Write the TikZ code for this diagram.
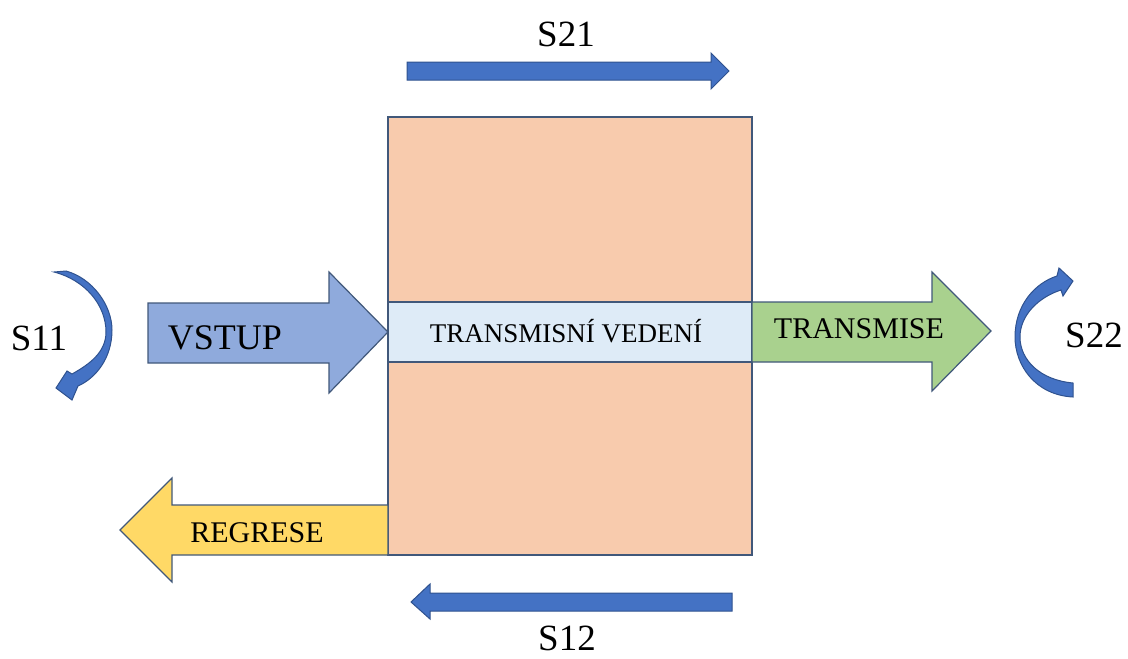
\documentclass[tikz,border=0pt]{standalone}
\usepackage{fontspec}
\setmainfont{Liberation Serif}
\definecolor{peach}{HTML}{F8CBAD}
\definecolor{band}{HTML}{DEEBF7}
\definecolor{inblue}{HTML}{8FAADC}
\definecolor{outgreen}{HTML}{A9D18E}
\definecolor{backyellow}{HTML}{FFD966}
\definecolor{sblue}{HTML}{4472C4}
\definecolor{sbord}{HTML}{2F528F}
\definecolor{edge}{HTML}{41587A}
\tikzset{
  shapeline/.style={draw=edge, line width=1.2pt, line join=miter},
  bluearrow/.style={fill=sblue, draw=sbord, line width=1pt, line join=miter},
  lbl/.style={anchor=base, inner sep=0pt, text depth=0pt, font=\fontsize{37}{40}\selectfont},
  arrtext/.style={anchor=base, inner sep=0pt},
}
\begin{document}
\begin{tikzpicture}[x=1pt,y=-1pt]
\useasboundingbox (0,0) rectangle (1128,659);
% main box and band
\draw[shapeline, fill=peach] (388,117) rectangle (752,555);
\draw[shapeline, fill=band] (388,302) rectangle (752,362);
\node[arrtext, font=\fontsize{27}{30}\selectfont] (tv) at (566,342) {TRANSMISNÍ VEDENÍ};
% VSTUP arrow
\draw[shapeline, fill=inblue] (148,303) -- (329,303) -- (329,272) -- (388,332) -- (329,393) -- (329,363) -- (148,363) -- cycle;
\node[arrtext, font=\fontsize{36}{40}\selectfont] (vstup) at (225,349) {VSTUP};
% TRANSMISE arrow
\draw[shapeline, fill=outgreen] (752,302) -- (932,302) -- (932,272) -- (991,331) -- (932,391) -- (932,362) -- (752,362) -- cycle;
\node[arrtext, font=\fontsize{30}{34}\selectfont] (tr) at (859,338) {TRANSMISE};
% REGRESE arrow
\draw[shapeline, fill=backyellow] (388,505) -- (172,505) -- (172,478) -- (120,530) -- (172,582) -- (172,555) -- (388,555) -- cycle;
\node[arrtext, font=\fontsize{30}{34}\selectfont] (rg) at (257,542) {REGRESE};
% S21 arrow
\draw[bluearrow] (407,62) -- (711,62) -- (711,53) -- (729,71) -- (711,89) -- (711,80) -- (407,80) -- cycle;
\node[lbl] (s21) at (566,46) {S21};
% S12 arrow
\draw[bluearrow] (732,593) -- (430,593) -- (430,584) -- (411,602) -- (430,619) -- (430,611) -- (732,611) -- cycle;
\node[lbl] (s12) at (567,650) {S12};
% S11 curved arrow
\draw[bluearrow] (54,272) -- (66,271)
  .. controls (92,278) and (112,305) .. (112,330)
  .. controls (112,358) and (96,378) .. (78,386)
  -- (72,400) -- (56,388) -- (67,371) -- (72,374)
  .. controls (90,364) and (106,352) .. (106,332)
  .. controls (106,305) and (85,280) .. cycle;
\node[lbl] (s11) at (39,350) {S11};
% S22 curved arrow
\draw[bluearrow] (1073,397)
  .. controls (1035,395) and (1015,365) .. (1015,337)
  .. controls (1015,305) and (1035,283) .. (1057,276)
  -- (1059,268) -- (1073,281) -- (1063,296) -- (1061,290)
  .. controls (1039,297) and (1020,315) .. (1020,337)
  .. controls (1020,360) and (1040,380) .. (1073,383) -- cycle;
\node[lbl] (s22) at (1094,347) {S22};
\end{tikzpicture}
\end{document}
